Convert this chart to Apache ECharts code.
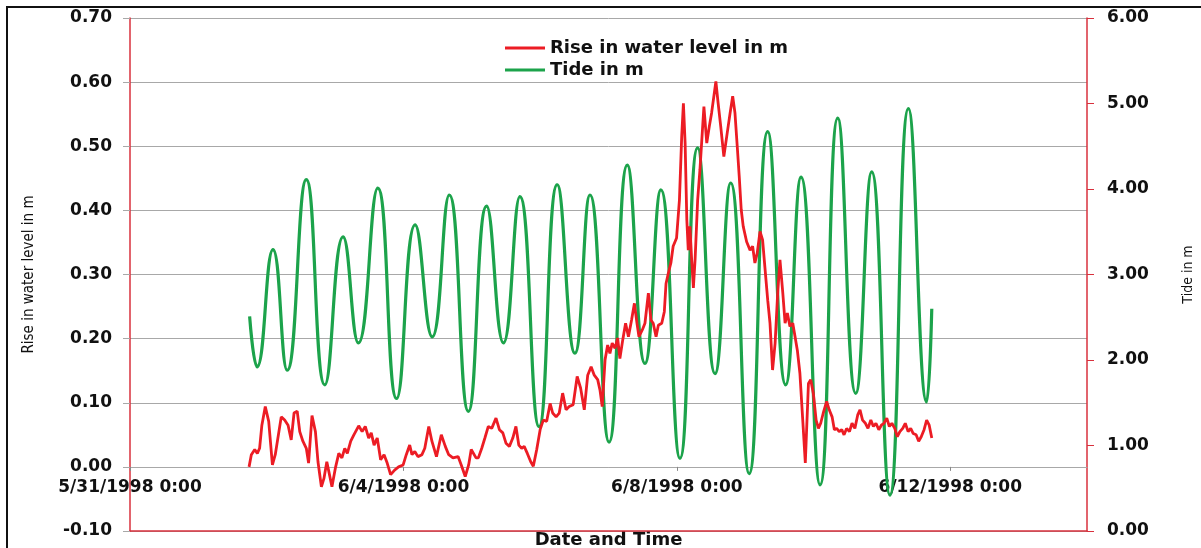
<!DOCTYPE html>
<html>
<head>
<meta charset="utf-8">
<script src="https://cdn.jsdelivr.net/npm/echarts@6/dist/echarts.min.js"></script>
<style>
  html, body { margin: 0; padding: 0; background: #fff; }
  #chart { width: 1201px; height: 548px; }
</style>
</head>
<body>
<div id="chart"></div>
<script>
// Time is counted in hours from 5/31/1998 0:00.
const START_UTC = Date.UTC(1998, 4, 31, 0, 0);
const X_MAX_HOURS = 336;      // 6/14/1998 0:00
const X_STEP_HOURS = 96;      // one label every 4 days

// Left (rise) and right (tide) value ranges
const RISE_MIN = -0.1, RISE_MAX = 0.7, RISE_STEP = 0.1;
const TIDE_MIN = 0, TIDE_MAX = 6, TIDE_STEP = 1;

const seriesNames = ['Rise in water level in m', 'Tide in m'];

// [hours, rise in water level (m)]
const riseLevel = [
  [41.8,0.000],[42.6,0.019],[43.8,0.027],[44.7,0.021],[45.5,0.029],[46.3,0.065],[47.5,0.094],[48.7,0.071],
  [50.0,0.003],[51.0,0.019],[53.1,0.078],[54.3,0.073],[55.5,0.065],[56.6,0.042],[57.6,0.084],[58.7,0.087],
  [59.6,0.055],[60.7,0.040],[61.9,0.029],[62.7,0.006],[63.9,0.080],[65.1,0.055],[66.0,0.008],[67.2,-0.031],
  [68.1,-0.018],[69.1,0.008],[69.8,-0.007],[70.9,-0.031],[72.1,-0.002],[73.3,0.021],[74.4,0.014],[75.4,0.029],
  [76.3,0.021],[77.5,0.040],[78.6,0.050],[80.3,0.064],[81.5,0.055],[82.6,0.063],[83.8,0.045],[84.7,0.053],
  [85.7,0.034],[86.8,0.045],[88.0,0.011],[89.2,0.019],[90.3,0.006],[91.5,-0.012],[92.9,-0.005],[94.3,0.000],
  [95.9,0.003],[97.0,0.019],[98.2,0.034],[99.0,0.019],[100.0,0.024],[101.1,0.016],[102.5,0.019],[103.5,0.029],
  [104.9,0.063],[106.0,0.040],[107.6,0.016],[109.3,0.050],[110.7,0.032],[111.9,0.019],[113.4,0.014],[115.2,0.016],
  [116.3,0.003],[117.7,-0.015],[118.9,0.003],[119.8,0.027],[120.5,0.029],[121.5,0.014],[122.3,0.014],[123.5,0.029],
  [124.6,0.045],[125.8,0.063],[127.0,0.060],[128.5,0.076],[129.7,0.058],[130.9,0.053],[132.0,0.037],[133.2,0.032],
  [134.4,0.045],[135.5,0.063],[136.5,0.034],[137.5,0.029],[138.4,0.032],[139.5,0.021],[140.7,0.008],[141.6,0.001],
  [142.8,0.027],[144.0,0.058],[145.1,0.073],[146.3,0.071],[147.5,0.099],[148.4,0.084],[149.6,0.078],[150.7,0.084],
  [151.9,0.115],[153.1,0.089],[154.2,0.094],[155.6,0.097],[157.0,0.141],[158.2,0.123],[159.5,0.089],[160.7,0.143],
  [161.9,0.156],[163.0,0.143],[164.2,0.136],[165.0,0.120],[165.8,0.094],[166.8,0.167],[167.7,0.190],[168.5,0.177],
  [169.3,0.193],[170.3,0.185],[171.2,0.201],[172.0,0.169],[173.0,0.198],[174.0,0.224],[175.0,0.203],[176.1,0.229],
  [177.1,0.255],[178.0,0.224],[178.7,0.203],[179.9,0.214],[180.8,0.224],[182.0,0.271],[182.9,0.229],[183.7,0.224],
  [184.7,0.203],[185.5,0.221],[186.7,0.224],[187.6,0.242],[188.2,0.286],[189.0,0.302],[189.9,0.318],[190.7,0.344],
  [191.9,0.357],[192.9,0.416],[193.7,0.515],[194.3,0.567],[194.9,0.505],[195.5,0.385],[196.0,0.338],[196.6,0.375],
  [197.2,0.323],[197.8,0.279],[198.4,0.323],[199.3,0.416],[200.1,0.463],[201.5,0.562],[202.5,0.505],[203.4,0.531],
  [204.2,0.552],[205.7,0.601],[206.5,0.567],[207.4,0.531],[208.5,0.484],[209.5,0.515],[210.7,0.552],[211.6,0.578],
  [212.4,0.552],[213.2,0.500],[213.9,0.453],[214.6,0.401],[215.3,0.375],[216.5,0.351],[217.7,0.338],[218.6,0.344],
  [219.4,0.318],[220.2,0.333],[221.2,0.367],[222.1,0.354],[222.9,0.312],[223.9,0.260],[224.7,0.224],[225.6,0.151],
  [226.5,0.193],[227.4,0.271],[228.2,0.323],[229.2,0.271],[230.0,0.224],[230.8,0.240],[231.7,0.219],[232.7,0.224],
  [233.5,0.203],[234.3,0.182],[235.2,0.146],[236.2,0.073],[237.1,0.006],[238.2,0.130],[239.0,0.136],[239.9,0.115],
  [240.9,0.073],[241.7,0.060],[242.5,0.068],[243.4,0.084],[244.6,0.102],[245.5,0.089],[246.5,0.078],[247.3,0.058],
  [248.1,0.060],[249.0,0.055],[249.9,0.058],[250.7,0.050],[251.6,0.060],[252.6,0.055],[253.5,0.068],[254.5,0.060],
  [255.5,0.081],[256.3,0.089],[257.2,0.073],[258.2,0.068],[259.1,0.060],[260.1,0.073],[261.0,0.063],[261.9,0.068],
  [262.9,0.058],[263.8,0.065],[264.7,0.068],[265.7,0.076],[266.6,0.063],[267.5,0.068],[268.5,0.060],[269.4,0.047],
  [270.3,0.055],[271.3,0.060],[272.2,0.068],[273.2,0.055],[274.1,0.060],[275.0,0.052],[276.0,0.050],[276.9,0.040],
  [277.8,0.047],[278.8,0.058],[279.7,0.073],[280.6,0.065],[281.5,0.045]
];

// [hours, tide (m)] - high and low waters plus the first and last readings
const tideLevel = [
  [42.0,2.51],[44.6,1.92],[50.2,3.29],[55.2,1.88],[61.9,4.11],[68.4,1.71],[74.8,3.44],[80.2,2.20],
  [87.0,4.01],[93.6,1.55],[100.1,3.58],[106.1,2.27],[112.1,3.93],[118.8,1.40],[125.2,3.80],[131.1,2.20],
  [136.9,3.91],[143.6,1.22],[150.0,4.05],[156.2,2.08],[161.5,3.93],[168.2,1.04],[174.6,4.28],[180.8,1.96],
  [186.4,3.99],[193.1,0.85],[199.3,4.48],[205.4,1.84],[210.9,4.07],[217.4,0.67],[223.9,4.67],[230.2,1.71],
  [235.6,4.14],[242.3,0.54],[248.5,4.83],[254.8,1.61],[260.4,4.20],[266.8,0.42],[273.3,4.94],[279.7,1.51],
  [281.5,2.60]
];

const RED = '#ec1c24';
const GREEN = '#1ca34b';
const FRAME = '#d8303c';
const GRID = '#a8a8a8';
const BOLD_FONT = '"DejaVu Sans", "Liberation Sans", sans-serif';
const NARROW_FONT = '"Liberation Sans Narrow", "DejaVu Sans Condensed", "Liberation Sans", sans-serif';

const CHART_H = 548, GRID_TOP = 18, GRID_BOTTOM = 17;
// The date axis sits on the zero line of the left axis.
const PLOT_H = CHART_H - GRID_TOP - GRID_BOTTOM;
const DATE_AXIS_OFFSET = -PLOT_H * (0 - RISE_MIN) / (RISE_MAX - RISE_MIN);

function formatHour(h) {
  const d = new Date(START_UTC + h * 3600000);
  const mm = String(d.getUTCMinutes()).padStart(2, '0');
  return (d.getUTCMonth() + 1) + '/' + d.getUTCDate() + '/' + d.getUTCFullYear() + ' ' + d.getUTCHours() + ':' + mm;
}

const chart = echarts.init(document.getElementById('chart'), null, { renderer: 'canvas' });

chart.setOption({
  animation: false,
  backgroundColor: '#fff',
  grid: { left: 130, right: 114, top: GRID_TOP, bottom: GRID_BOTTOM, containLabel: false, outerBoundsMode: 'none' },
  legend: {
    orient: 'vertical',
    left: 505,
    top: 39,
    padding: 0,
    itemGap: 4,
    itemWidth: 40,
    itemHeight: 3,
    selectedMode: false,
    data: seriesNames.map(n => ({ name: n, icon: 'rect' })),
    textStyle: { fontFamily: BOLD_FONT, fontWeight: 'bold', fontSize: 18, color: '#111' }
  },
  xAxis: [
    {
      type: 'value',
      min: 0,
      max: X_MAX_HOURS,
      interval: X_STEP_HOURS,
      position: 'bottom',
      offset: DATE_AXIS_OFFSET,
      name: 'Date and Time',
      nameLocation: 'middle',
      nameGap: 64,
      nameTextStyle: { fontFamily: BOLD_FONT, fontWeight: 'bold', fontSize: 18, color: '#111' },
      axisLine: { onZero: false, lineStyle: { color: GRID, width: 1 } },
      axisTick: { show: true, length: 4, lineStyle: { color: '#888' } },
      axisLabel: {
        margin: 12,
        fontFamily: BOLD_FONT, fontWeight: 'bold', fontSize: 17, color: '#111',
        formatter: formatHour
      },
      splitLine: { show: false }
    },
    {
      type: 'value',
      min: 0,
      max: X_MAX_HOURS,
      position: 'bottom',
      axisLine: { onZero: false, lineStyle: { color: FRAME, width: 1.5 } },
      axisTick: { show: false },
      axisLabel: { show: false },
      splitLine: { show: false }
    }
  ],
  yAxis: [
    {
      type: 'value',
      min: RISE_MIN,
      max: RISE_MAX,
      interval: RISE_STEP,
      position: 'left',
      name: 'Rise in water level in m',
      nameLocation: 'middle',
      nameRotate: 90,
      nameGap: 93,
      nameTextStyle: { fontFamily: NARROW_FONT, fontSize: 15, color: '#111' },
      axisLine: { show: true, onZero: false, lineStyle: { color: FRAME, width: 1.5 } },
      axisTick: { show: true, length: 7, lineStyle: { color: GRID } },
      axisLabel: {
        margin: 18,
        fontFamily: BOLD_FONT, fontWeight: 'bold', fontSize: 17, color: '#111',
        formatter: v => v.toFixed(2)
      },
      splitLine: { show: true, lineStyle: { color: GRID, width: 1 } }
    },
    {
      type: 'value',
      min: TIDE_MIN,
      max: TIDE_MAX,
      interval: TIDE_STEP,
      position: 'right',
      name: 'Tide in m',
      nameLocation: 'middle',
      nameRotate: 90,
      nameGap: 94,
      nameTextStyle: { fontFamily: NARROW_FONT, fontSize: 14, color: '#111' },
      axisLine: { show: true, onZero: false, lineStyle: { color: FRAME, width: 1.5 } },
      axisTick: { show: true, length: 7, lineStyle: { color: FRAME } },
      axisLabel: {
        margin: 20,
        fontFamily: BOLD_FONT, fontWeight: 'bold', fontSize: 17, color: '#111',
        formatter: v => v.toFixed(2)
      },
      splitLine: { show: false }
    }
  ],
  graphic: [
    {
      type: 'rect',
      silent: true,
      z: 100,
      shape: { x: 7, y: 7, width: 1220, height: 580 },
      style: { fill: 'none', stroke: '#111', lineWidth: 2 }
    }
  ],
  series: [
    {
      name: seriesNames[1],
      type: 'line',
      xAxisIndex: 0,
      yAxisIndex: 1,
      data: tideLevel,
      smooth: 0.5,
      showSymbol: false,
      symbol: 'none',
      color: GREEN,
      lineStyle: { color: GREEN, width: 3.2 },
      z: 2
    },
    {
      name: seriesNames[0],
      type: 'line',
      xAxisIndex: 0,
      yAxisIndex: 0,
      data: riseLevel,
      showSymbol: false,
      symbol: 'none',
      color: RED,
      lineStyle: { color: RED, width: 2.8 },
      z: 3
    }
  ]
});
</script>
</body>
</html>
